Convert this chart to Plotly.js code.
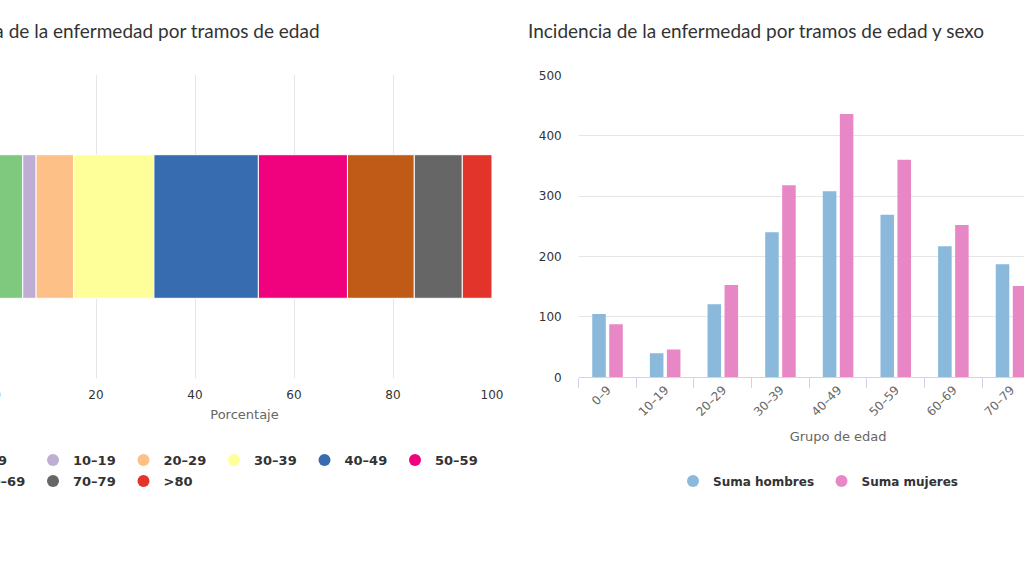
<!DOCTYPE html>
<html>
<head>
<meta charset="utf-8">
<script src="https://cdn.plot.ly/plotly-3.0.1.min.js"></script>
<style>
  html, body { margin: 0; padding: 0; width: 1024px; height: 576px; overflow: hidden; background: #fff; }
  #chart { position: absolute; left: -80px; top: 0; width: 1200px; height: 576px; }
</style>
</head>
<body>
<div id="chart"></div>
<script>
// ---- data ----
var ageGroups = ['0–9', '10–19', '20–29', '30–39', '40–49', '50–59', '60–69', '70–79', '>80'];
var percentages = [5.2, 2.7, 7.6, 16.2, 21.1, 18.0, 13.5, 9.7, 6.0];
var hombres = [105, 40, 121, 240, 308, 269, 217, 187, 92];
var mujeres = [88, 46, 153, 318, 436, 360, 252, 151, 118];
var leftTitle = 'Incidencia de la enfermedad por tramos de edad';
var rightTitle = 'Incidencia de la enfermedad por tramos de edad y sexo';

// ---- styles ----
var ageColors = ['#7fc97f', '#beaed4', '#fdc086', '#ffff99', '#386cb0', '#f0027f', '#bf5b17', '#666666', '#e3342b'];
var colHombres = '#8ab9db';
var colMujeres = '#e887c6';

// page pixel -> paper fraction helpers (div is 1200 wide, shifted -80px)
var OFF = 80, W = 1200, H = 576;
function px(x) { return (x + OFF) / W; }
function py(y) { return 1 - y / H; }

var traces = [];
var cum = 0;
ageGroups.forEach(function (g, i) {
  traces.push({
    type: 'bar', orientation: 'h',
    x: [percentages[i]], base: [cum], y: ['Total'],
    width: 0.474,
    xaxis: 'x', yaxis: 'y',
    marker: { color: ageColors[i], line: { color: '#ffffff', width: 1 } },
    name: g, showlegend: false, hoverinfo: 'x+name'
  });
  cum += percentages[i];
});
// legend entries (circle symbols) for left chart
ageGroups.forEach(function (g, i) {
  traces.push({
    type: 'scatter', mode: 'markers', x: [null], y: [null],
    xaxis: 'x', yaxis: 'y',
    marker: { color: ageColors[i], size: 12, symbol: 'circle' },
    name: g, showlegend: true, legend: i < 6 ? 'legend' : 'legend3'
  });
});

traces.push({
  type: 'bar', x: ageGroups, y: hombres, name: 'Suma hombres',
  xaxis: 'x2', yaxis: 'y2', offset: -0.265, width: 0.235,
  marker: { color: colHombres }, showlegend: false
});
traces.push({
  type: 'bar', x: ageGroups, y: mujeres, name: 'Suma mujeres',
  xaxis: 'x2', yaxis: 'y2', offset: 0.03, width: 0.235,
  marker: { color: colMujeres }, showlegend: false
});
[['Suma hombres', colHombres], ['Suma mujeres', colMujeres]].forEach(function (d) {
  traces.push({
    type: 'scatter', mode: 'markers', x: [null], y: [null],
    xaxis: 'x2', yaxis: 'y2',
    marker: { color: d[1], size: 12, symbol: 'circle' },
    name: d[0], showlegend: true, legend: 'legend2'
  });
});

var tickFont = { family: 'DejaVu Sans', size: 12, color: '#333333' };
var legFont = { family: 'DejaVu Sans', size: 13, color: '#333333', weight: 'bold' };
var legFont2 = { family: 'DejaVu Sans', size: 12, color: '#333333', weight: 'bold' };

var layout = {
  width: W, height: H,
  margin: { l: 0, r: 0, t: 0, b: 0 },
  paper_bgcolor: '#ffffff', plot_bgcolor: '#ffffff',
  barmode: 'overlay',
  font: { family: 'DejaVu Sans', color: '#333333' },
  xaxis: {
    domain: [px(-3), px(492)], range: [0, 100], dtick: 20,
    showgrid: true, gridcolor: '#e6e6e6', zeroline: false, showline: false,
    tickfont: tickFont, ticks: '', ticklabelstandoff: 8,
    title: { text: 'Porcentaje', font: { family: 'DejaVu Sans', size: 13, color: '#666666' }, standoff: 8 },
    anchor: 'y', fixedrange: true
  },
  yaxis: {
    domain: [py(378), py(75)], type: 'category',
    showticklabels: false, showgrid: false, zeroline: false, showline: false,
    anchor: 'x', fixedrange: true
  },
  xaxis2: {
    domain: [px(578.7), px(1097.5)], type: 'category', range: [-0.5, 8.5],
    showgrid: false, zeroline: false, showline: true, linecolor: '#ccd6eb', linewidth: 1,
    ticks: 'outside', tickson: 'boundaries', ticklen: 10, tickcolor: '#ccd6eb',
    tickangle: -45, tickfont: { family: 'DejaVu Sans', size: 12, color: '#666666' },
    title: { text: 'Grupo de edad', font: { family: 'DejaVu Sans', size: 13, color: '#666666' }, standoff: 13 },
    anchor: 'y2', fixedrange: true
  },
  yaxis2: {
    domain: [py(377.3), py(75.3)], range: [0, 500], dtick: 100,
    showgrid: true, gridcolor: '#e6e6e6', zeroline: false, showline: false,
    tickfont: tickFont, ticks: '', ticklabelstandoff: 16,
    anchor: 'x2', fixedrange: true
  },
  legend: {
    orientation: 'h', x: px(-57.5), xanchor: 'left', y: py(460), yanchor: 'middle',
    font: legFont, entrywidth: 45.5, entrywidthmode: 'pixels', itemwidth: 30,
    bgcolor: 'rgba(0,0,0,0)', borderwidth: 0
  },
  legend3: {
    orientation: 'h', x: px(-57.5), xanchor: 'left', y: py(481), yanchor: 'middle',
    font: legFont, entrywidth: 45.5, entrywidthmode: 'pixels', itemwidth: 30,
    bgcolor: 'rgba(0,0,0,0)', borderwidth: 0
  },
  legend2: {
    orientation: 'h', x: px(673), xanchor: 'left', y: py(481), yanchor: 'middle',
    font: legFont2, entrywidth: 103.5, entrywidthmode: 'pixels', itemwidth: 30,
    bgcolor: 'rgba(0,0,0,0)', borderwidth: 0
  },
  annotations: [
    { text: leftTitle, xref: 'paper', yref: 'paper', x: px(322), y: py(31), xanchor: 'right', yanchor: 'middle',
      showarrow: false, font: { family: 'Lato', size: 19, color: '#333333' } },
    { text: rightTitle, xref: 'paper', yref: 'paper', x: px(526), y: py(31), xanchor: 'left', yanchor: 'middle',
      showarrow: false, font: { family: 'Lato', size: 19, color: '#333333' } }
  ],
  showlegend: true
};

Plotly.newPlot('chart', traces, layout, { displayModeBar: false, staticPlot: true });
</script>
</body>
</html>
